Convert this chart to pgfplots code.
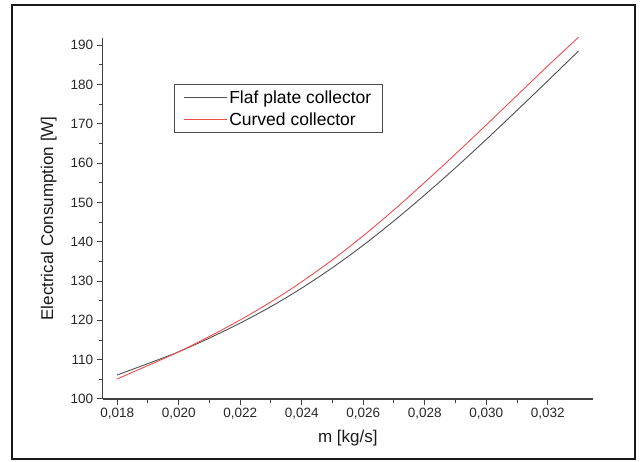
\documentclass[border=0pt]{standalone}
\usepackage{fontspec}
\setmainfont{Liberation Sans}
\usepackage{pgfplots}
\pgfplotsset{compat=1.18}

\definecolor{flatgray}{HTML}{505050}
\definecolor{curvedred}{HTML}{F24C4C}

\begin{document}
\begin{tikzpicture}
  % page size and outer frame (1px = 1pt, axis box SW corner at the origin)
  \path (-102.7pt,-63pt) rectangle (538.3pt,399pt);
  \begin{axis}[
      scale only axis,
      width=490.3pt, height=361pt,
      xmin=0.01753, xmax=0.03347,
      ymin=100, ymax=191.8,
      axis x line*=bottom, axis y line*=left,
      axis line style={-, line width=1.2pt, black!75},
      xtick={0.018,0.020,0.022,0.024,0.026,0.028,0.030,0.032},
      ytick={100,110,...,190},
      minor x tick num=1, minor y tick num=1,
      tick align=outside,
      major tick length=6pt, minor tick length=4pt,
      tick style={black!75, line width=1pt},
      scaled x ticks=false,
      tick label style={font=\fontsize{13.5}{15}\selectfont, black!85},
      xticklabel style={/pgf/number format/.cd, fixed, fixed zerofill, precision=3, use comma, assume math mode=true},
      yticklabel style={/pgf/number format/assume math mode=true},
      xlabel={m [kg/s]},
      ylabel={Electrical Consumption [W]},
      label style={font=\fontsize{17}{20}\selectfont, black!90},
      xlabel style={yshift=-4pt},
      ylabel style={yshift=7pt},
      legend style={
        at={(rel axis cs:0.1454,0.8726)}, anchor=north west,
        draw=black!70, line width=0.8pt,
        font=\fontsize{17.5}{20}\selectfont,
        inner xsep=9pt, inner ysep=4pt, row sep=4pt
      },
      legend cell align=left,
      legend image code/.code={
        \draw[#1] (2pt,0pt) -- (40pt,0pt);
        \path (0pt,0pt) -- (43pt,0pt);
      },
    ]

    % Flat plate collector
    \addplot[flatgray, line width=0.9pt, smooth] coordinates {
      (0.018, 106.1) (0.019, 109.0) (0.020, 112.0) (0.021, 115.5)
      (0.022, 119.3) (0.023, 123.5) (0.024, 128.2) (0.025, 133.4)
      (0.026, 139.1) (0.027, 145.3) (0.028, 151.9) (0.029, 158.8)
      (0.030, 166.0) (0.031, 173.4) (0.032, 180.9) (0.033, 188.5)
    };
    \addlegendentry{Flaf plate collector}

    % Curved collector
    \addplot[curvedred, line width=0.9pt, smooth] coordinates {
      (0.018, 105.1) (0.019, 108.5) (0.020, 112.0) (0.021, 115.9)
      (0.022, 120.1) (0.023, 124.7) (0.024, 129.8) (0.025, 135.4)
      (0.026, 141.5) (0.027, 148.1) (0.028, 155.1) (0.029, 162.3)
      (0.030, 169.7) (0.031, 177.2) (0.032, 184.7) (0.033, 192.0)
    };
    \addlegendentry{Curved collector}

  \end{axis}
  \draw[line width=1.4pt, black!90] (-90.7pt,-60pt) rectangle (532.3pt,394pt);
\end{tikzpicture}
\end{document}
